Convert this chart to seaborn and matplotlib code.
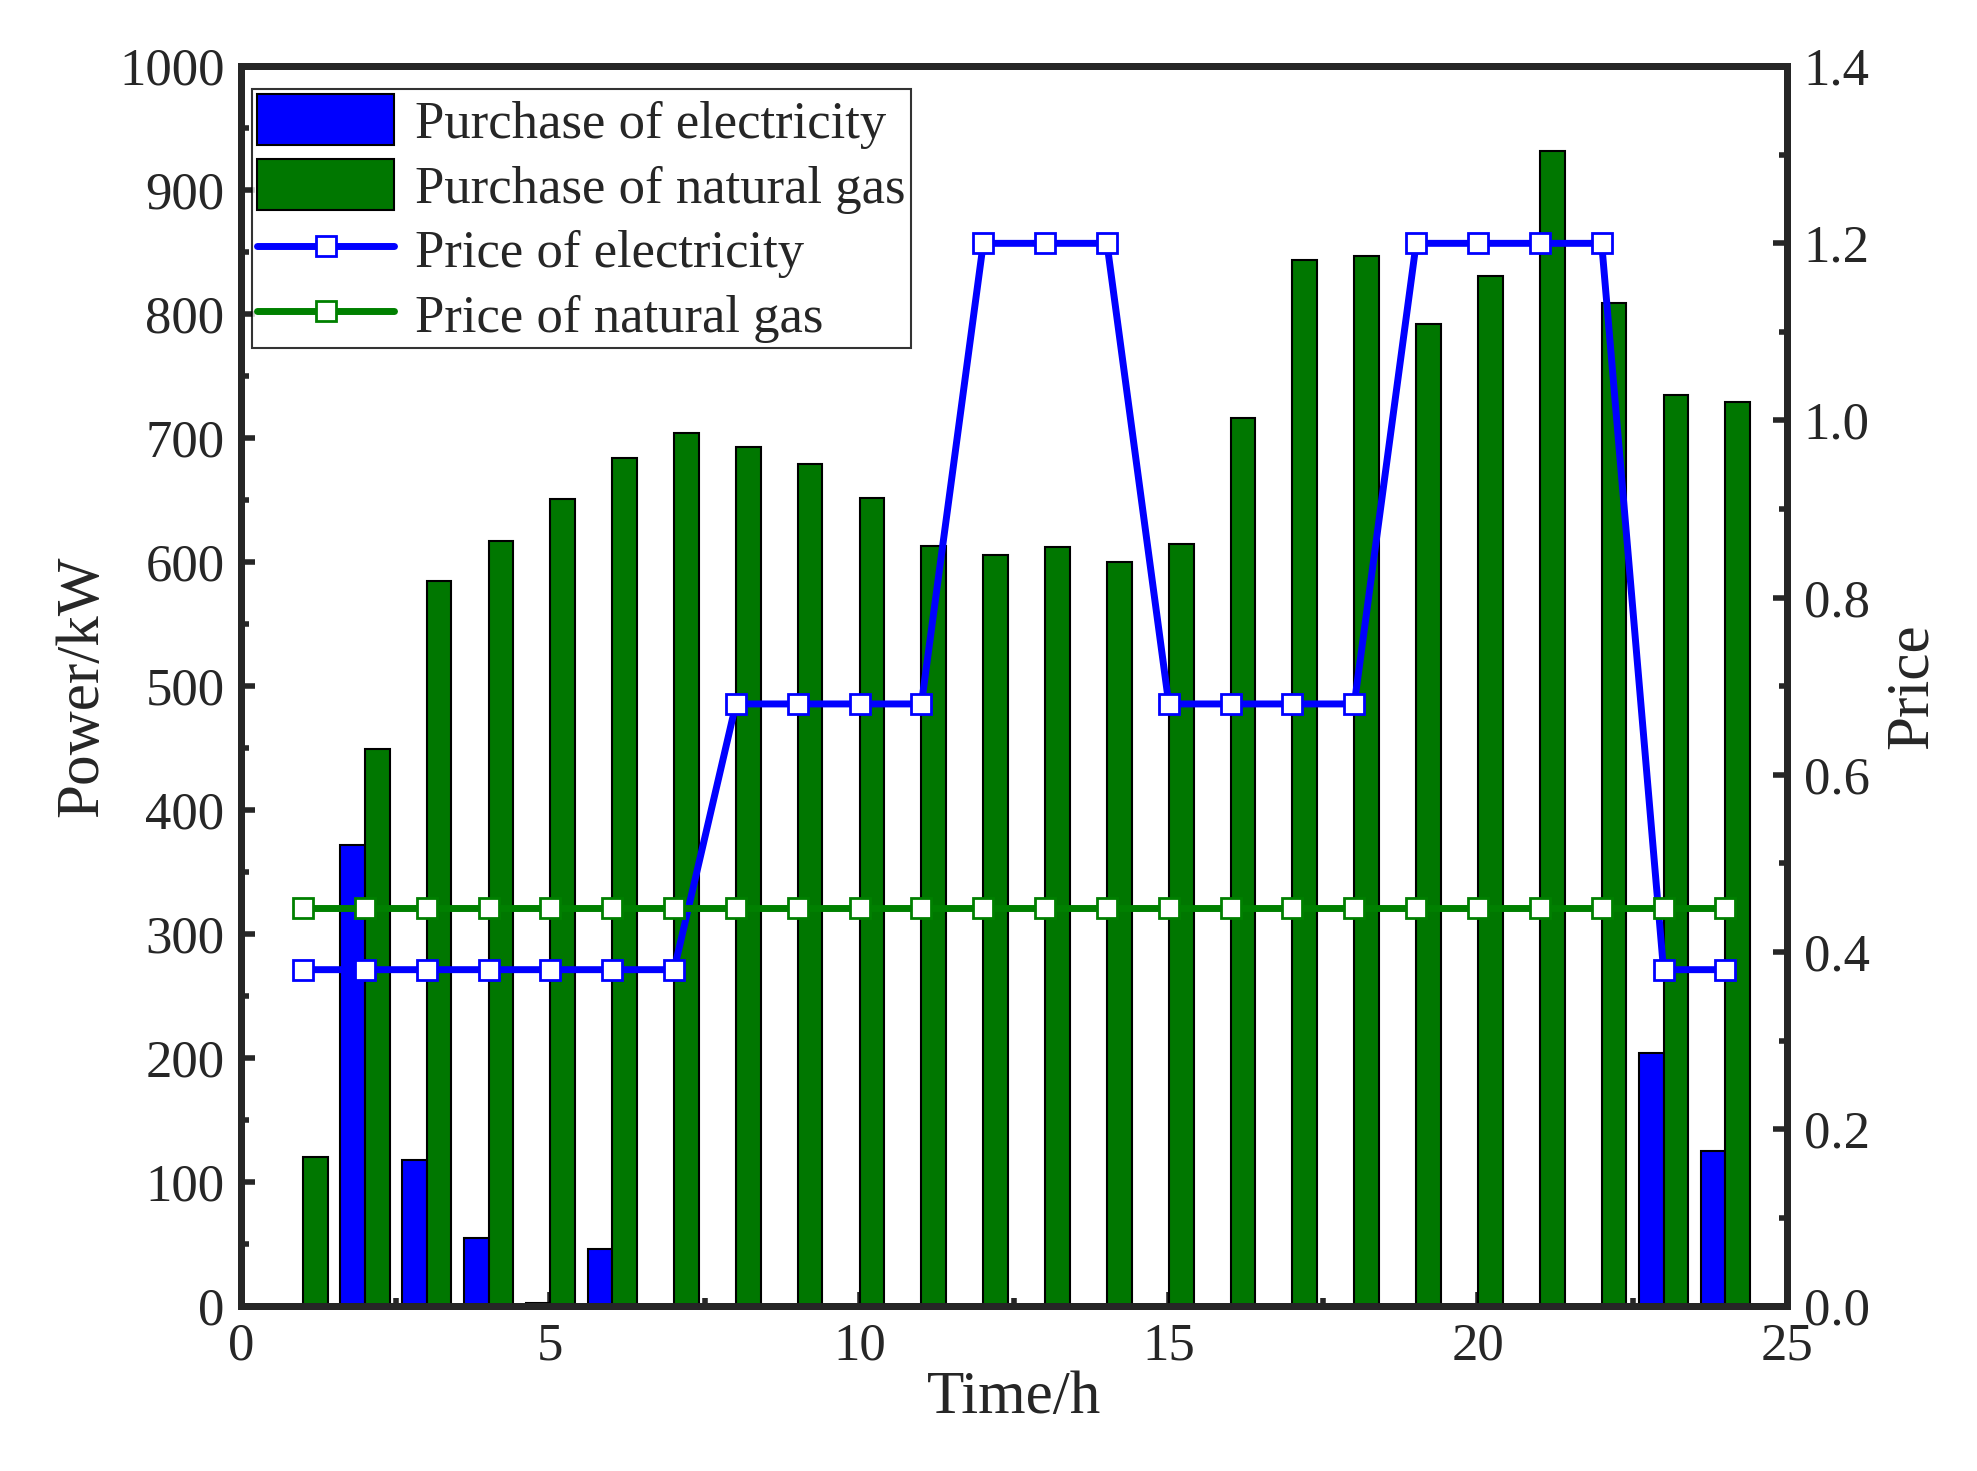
import matplotlib
matplotlib.use("Agg")
import matplotlib.pyplot as plt
import seaborn as sns
import numpy as np
import pandas as pd

hours = list(range(1, 25))
elec_buy = [0, 372, 118, 55, 3, 46, 0, 0, 0, 0, 0, 0, 0, 0, 0, 0, 0, 0, 0, 0, 0, 0, 204, 125]
gas_buy = [120, 449, 585, 617, 651, 684, 704, 693, 679, 652, 613, 606, 612, 600, 615, 716,
           844, 847, 792, 831, 932, 809, 735, 729]
elec_price = [0.38]*7 + [0.68]*4 + [1.2]*3 + [0.68]*4 + [1.2]*4 + [0.38]*2
gas_price = [0.45]*24

sns.set_style("ticks")
plt.rcParams["font.family"] = "Liberation Serif"
fig = plt.figure(figsize=(19.77, 14.71), dpi=100)
ax = fig.add_axes([0.122, 0.112, 0.782, 0.843])
h = np.array(hours)
ax.bar(h - 0.2, elec_buy, width=0.4, color="#0000ff", edgecolor="black", linewidth=1.5,
       label="Purchase of electricity")
ax.bar(h + 0.2, gas_buy, width=0.4, color="#007700", edgecolor="black", linewidth=1.5,
       label="Purchase of natural gas")
ax.set_xlim(0, 25)
ax.set_ylim(0, 1000)
ax.set_xticks([0, 5, 10, 15, 20, 25])
ax.set_yticks(range(0, 1001, 100))
ax.set_xlabel("Time/h", fontsize=44, labelpad=0)
ax.set_ylabel("Power/kW", fontsize=44, labelpad=6)

ax2 = ax.twinx()
df = pd.DataFrame({"h": hours, "ep": elec_price, "gp": gas_price})
sns.lineplot(data=df, x="h", y="ep", ax=ax2, color="#0000ff", lw=5, marker="s", markersize=15,
             markerfacecolor="white", markeredgecolor="#0000ff", markeredgewidth=2,
             label="Price of electricity")
sns.lineplot(data=df, x="h", y="gp", ax=ax2, color="#008000", lw=5, marker="s", markersize=15,
             markerfacecolor="white", markeredgecolor="#008000", markeredgewidth=2,
             label="Price of natural gas")
ax2.set_ylim(0, 1.4)
ax2.set_yticks(np.arange(0, 1.41, 0.2))
ax2.set_yticklabels([f"{v:.1f}" for v in np.arange(0, 1.41, 0.2)])
ax2.set_ylabel("Price", fontsize=44, labelpad=10)

for a in (ax, ax2):
    for s in a.spines.values():
        s.set_linewidth(5)
    a.tick_params(labelsize=38, width=4, length=10, direction="in", pad=12)
ax.tick_params(axis="x", top=False)
ax.yaxis.set_minor_locator(matplotlib.ticker.MultipleLocator(50))
ax2.yaxis.set_minor_locator(matplotlib.ticker.MultipleLocator(0.1))
ax.xaxis.set_minor_locator(matplotlib.ticker.MultipleLocator(2.5))
for a in (ax, ax2):
    a.tick_params(which="minor", width=4, length=6, direction="in")

h1, l1 = ax.get_legend_handles_labels()
h2, l2 = ax2.get_legend_handles_labels()
ax2.legend(h1 + h2, l1 + l2, loc="upper left", fontsize=38, frameon=True, fancybox=False,
           edgecolor="black", handlelength=2.6, handleheight=1.1, borderpad=0.1,
           labelspacing=0.2, handletextpad=0.4, borderaxespad=0.2,
           bbox_to_anchor=(0.0, 0.99)).get_frame().set_linewidth(1.5)
fig.savefig("out.png", dpi=100)
